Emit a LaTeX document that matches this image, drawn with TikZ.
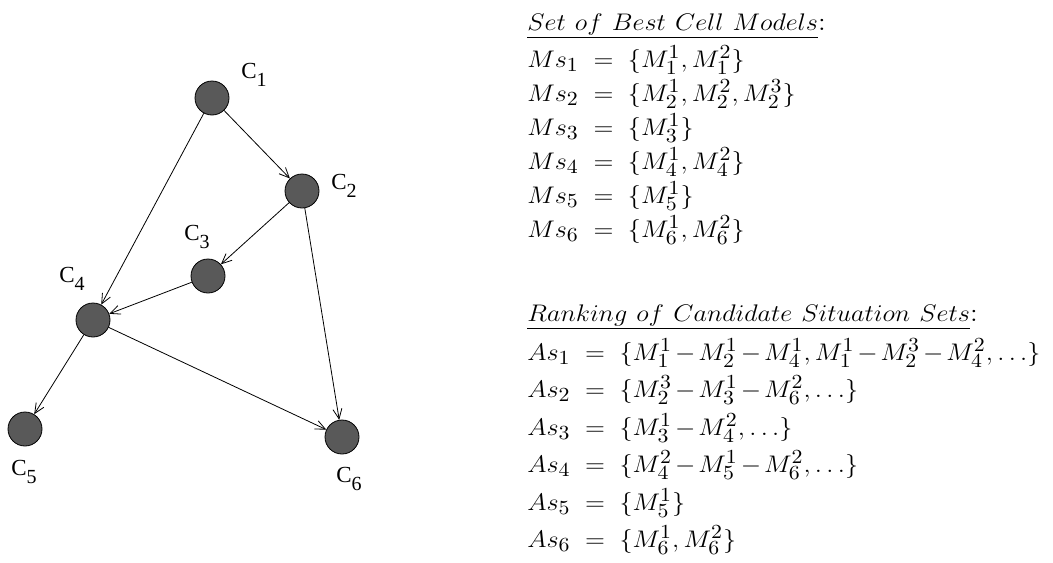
\documentclass[tikz,border=0pt]{standalone}
\usepackage{fontspec}
\usetikzlibrary{arrows.meta}
\newfontfamily\labfont{Liberation Serif}
\DeclareMathSizes{13}{13}{9.6}{7}
\newcommand{\cname}[1]{{\labfont\fontsize{11.5}{12}\selectfont C\raisebox{-4pt}{\fontsize{10}{10}\selectfont #1}}}
\newcommand{\dsh}{\mkern2mu{-}\mkern2mu}
\newcommand{\wide}[1]{\scalebox{1.09}[1]{#1}}

\begin{document}
\begin{tikzpicture}[x=0.5pt,y=-0.5pt,
  cell/.style={circle,draw=black,fill=black!65,minimum size=17pt,inner sep=0pt},
  clabel/.style={inner sep=0pt},
  conn/.style={thin,-{Straight Barb[length=5pt,width=4.5pt]}},
  eqline/.style={anchor=base west,inner sep=0pt,font=\fontsize{13}{15}\selectfont}]
\useasboundingbox (0,0) rectangle (1053,562);

% cells
\node[cell] (c1) at (212,98) {};
\node[cell] (c2) at (302,191) {};
\node[cell] (c3) at (208,276) {};
\node[cell] (c4) at (93,320) {};
\node[cell] (c5) at (25,429) {};
\node[cell] (c6) at (342,437) {};

% cell names
\node[clabel] (l1) at (254,75) {\cname{1}};
\node[clabel] (l2) at (344,186) {\cname{2}};
\node[clabel] (l3) at (197,237) {\cname{3}};
\node[clabel] (l4) at (72,279) {\cname{4}};
\node[clabel] (l5) at (24,472) {\cname{5}};
\node[clabel] (l6) at (349,479) {\cname{6}};

% arcs
\draw[conn] (c1) -- (c2);
\draw[conn] (c1) -- (c4);
\draw[conn] (c2) -- (c3);
\draw[conn] (c2) -- (c6);
\draw[conn] (c3) -- (c4);
\draw[conn] (c4) -- (c5);
\draw[conn] (c4) -- (c6);

% best cell models
\node[eqline] (mtitle) at (527,30) {\wide{$\underline{Set\ of\ Best\ Cell\ Models}$:}};
\node[eqline] (ms1) at (527,67) {\wide{$Ms_1 \;=\; \{M_1^1, M_1^2\}$}};
\node[eqline] (ms2) at (527,101) {\wide{$Ms_2 \;=\; \{M_2^1, M_2^2, M_2^3\}$}};
\node[eqline] (ms3) at (527,135) {\wide{$Ms_3 \;=\; \{M_3^1\}$}};
\node[eqline] (ms4) at (527,169) {\wide{$Ms_4 \;=\; \{M_4^1, M_4^2\}$}};
\node[eqline] (ms5) at (527,203) {\wide{$Ms_5 \;=\; \{M_5^1\}$}};
\node[eqline] (ms6) at (527,237) {\wide{$Ms_6 \;=\; \{M_6^1, M_6^2\}$}};

% candidate situation sets
\node[eqline] (atitle) at (527,321) {\wide{$\underline{Ranking\ of\ Candidate\ Situation\ Sets}$:}};
\node[eqline] (as1) at (527,360) {\wide{$As_1 \;=\; \{M_1^1\dsh M_2^1\dsh M_4^1, M_1^1\dsh M_2^3\dsh M_4^2, \ldots\}$}};
\node[eqline] (as2) at (527,397) {\wide{$As_2 \;=\; \{M_2^3\dsh M_3^1\dsh M_6^2, \ldots\}$}};
\node[eqline] (as3) at (527,435) {\wide{$As_3 \;=\; \{M_3^1\dsh M_4^2, \ldots\}$}};
\node[eqline] (as4) at (527,472) {\wide{$As_4 \;=\; \{M_4^2\dsh M_5^1\dsh M_6^2, \ldots\}$}};
\node[eqline] (as5) at (527,510) {\wide{$As_5 \;=\; \{M_5^1\}$}};
\node[eqline] (as6) at (527,547) {\wide{$As_6 \;=\; \{M_6^1, M_6^2\}$}};
\end{tikzpicture}
\end{document}
